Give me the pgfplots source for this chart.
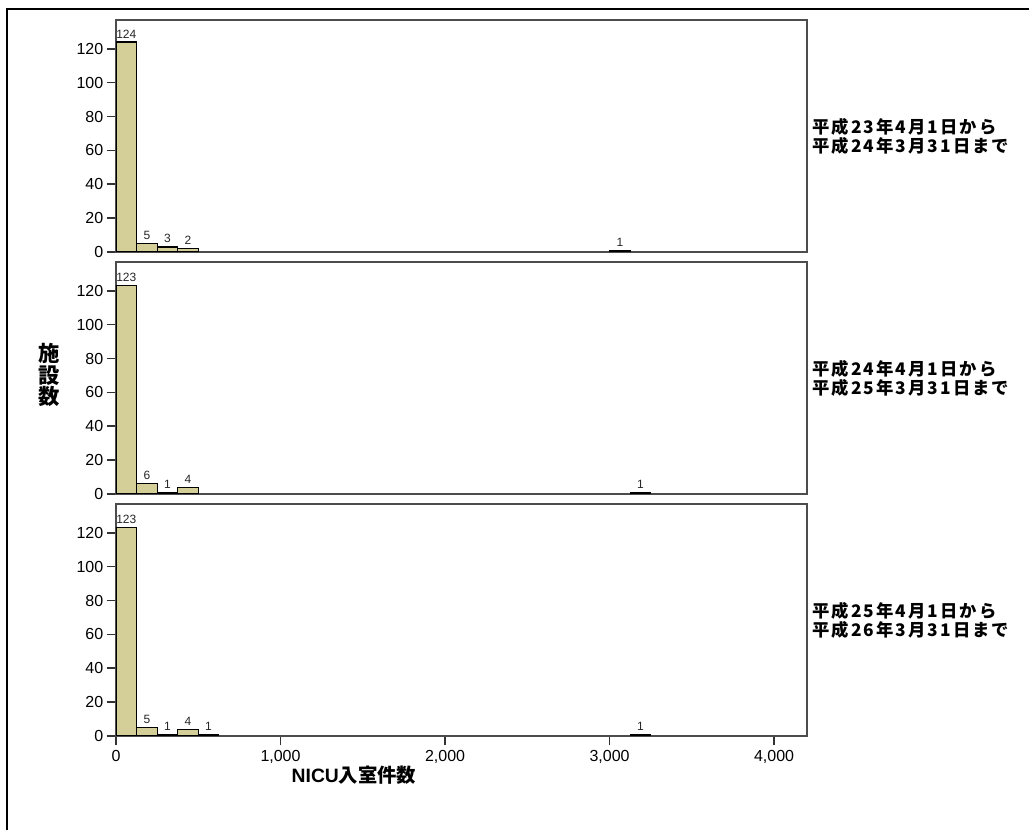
\documentclass[border=0pt]{standalone}
\usepackage{fontspec}
\setmainfont{Liberation Sans}
\newfontfamily\cjk{Noto Sans CJK JP}
\newfontfamily\cjkls{Noto Sans CJK JP}[LetterSpace=12]
\usepackage{pgfplots}
\pgfplotsset{compat=1.18}
\definecolor{barfill}{RGB}{212,206,152}
\pgfplotsset{
  panel/.style={
    scale only axis, width=518.25pt, height=174pt, anchor=north west,
    xmin=0, xmax=4200, ymin=0, ymax=137,
    ytick={0,20,...,120},
    axis line style={black!70, line width=1.2pt},
    tick style={black!80, line width=1.2pt},
    tick align=outside, major tick length=7pt,
    ytick pos=left, xtick pos=bottom,
    ybar, bar width=125,
    nodes near coords,
    every node near coord/.append style={font=\fontsize{9}{10}\selectfont, black!85, inner sep=2.5pt},
    yticklabel style={font=\fontsize{12}{13}\selectfont, xshift=1pt},
    xticklabel style={font=\fontsize{12}{13}\selectfont},
    /pgf/number format/assume math mode=true,
    /pgf/number format/1000 sep={,},
  },
  bars/.style={fill=barfill, draw=black, line width=0.9pt},
}
\begin{document}
\begin{tikzpicture}
\path[use as bounding box] (0pt,0pt) rectangle (771.75pt,-622.5pt);
\draw[line width=1.5pt] (5.25pt,-622.5pt) -- (5.25pt,-6.75pt) -- (771.75pt,-6.75pt);

\begin{axis}[panel, at={(87pt,-15pt)}, xtick=\empty]
\addplot[bars] coordinates {(62.5,124) (187.5,5) (312.5,3) (437.5,2) (3062.5,1)};
\end{axis}

\begin{axis}[panel, at={(87pt,-196.5pt)}, xtick=\empty]
\addplot[bars] coordinates {(62.5,123) (187.5,6) (312.5,1) (437.5,4) (3187.5,1)};
\end{axis}

\begin{axis}[panel, at={(87pt,-378pt)}, xtick={0,1000,2000,3000,4000}]
\addplot[bars] coordinates {(62.5,123) (187.5,5) (312.5,1) (437.5,4) (562.5,1) (3187.5,1)};
\end{axis}

\node[anchor=west, align=left, inner sep=0pt, font=\cjkls\bfseries\fontsize{13}{14.25}\selectfont] at (609pt,-102pt) {平成23年4月1日から\\平成24年3月31日まで};
\node[anchor=west, align=left, inner sep=0pt, font=\cjkls\bfseries\fontsize{13}{14.25}\selectfont] at (609pt,-283.5pt) {平成24年4月1日から\\平成25年3月31日まで};
\node[anchor=west, align=left, inner sep=0pt, font=\cjkls\bfseries\fontsize{13}{14.25}\selectfont] at (609pt,-465pt) {平成25年4月1日から\\平成26年3月31日まで};

\node[font=\cjk\bfseries\fontsize{16}{16}\selectfont, align=center] at (36.75pt,-281.25pt) {施\\設\\数};
\node[font=\bfseries\fontsize{14.5}{15}\selectfont] at (265.5pt,-581.25pt) {NICU{\cjk 入室件数}};
\end{tikzpicture}
\end{document}
